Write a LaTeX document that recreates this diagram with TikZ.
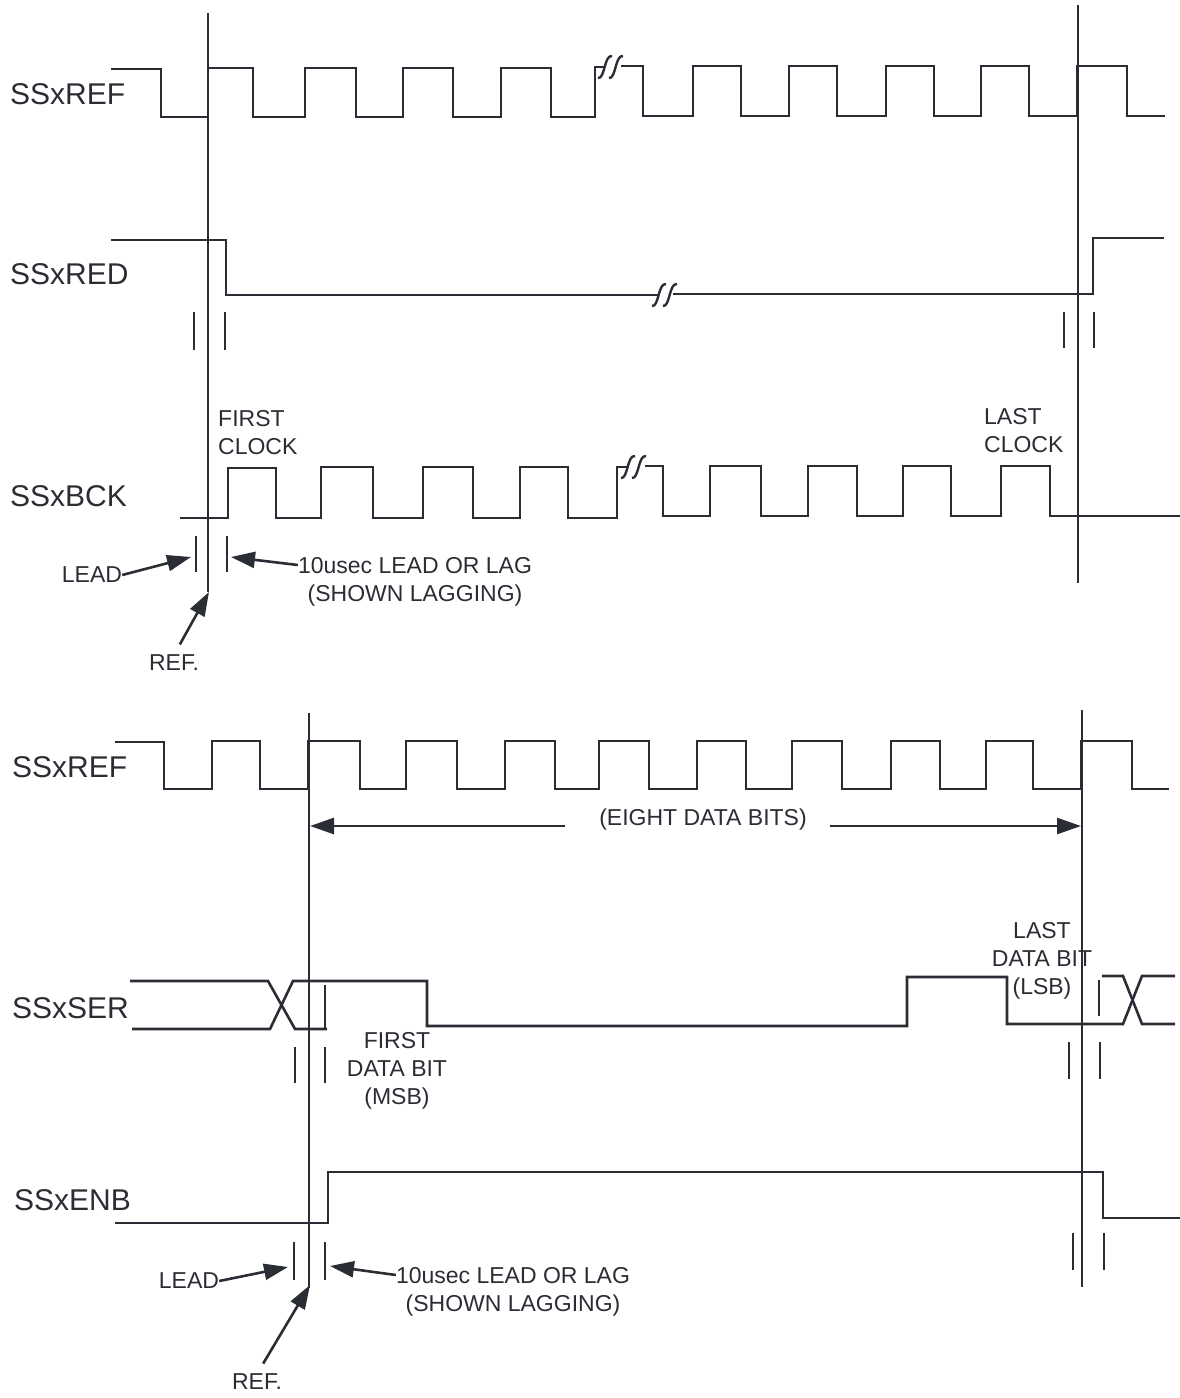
\documentclass[tikz,border=0pt]{standalone}
\usepackage{fontspec}
\setmainfont{Liberation Sans}
\usetikzlibrary{arrows.meta,calc,positioning}
\definecolor{ink}{RGB}{42,45,52}

\begin{document}
\begin{tikzpicture}[x=1pt,y=-1pt,>={Triangle[length=24pt,width=16pt]},
  wave/.style={ink, line width=2.6pt},
  refline/.style={ink, line width=1.8pt},
  tickmark/.style={ink, line width=2.6pt},
  gapmark/.style={ink, line width=2.4pt},
  sig/.style={font=\fontsize{30}{32}\selectfont, text=ink, anchor=west, inner sep=0pt},
  note/.style={font=\fontsize{23}{28}\selectfont, text=ink, inner sep=0pt, align=center},
  pointer/.style={ink, line width=2.6pt, ->}]

\useasboundingbox (0,0) rectangle (1180,1398);

% ---------------- upper diagram
\node[sig] (refA) at (10,94)  {SSxREF};
\node[sig] (red)  at (10,274) {SSxRED};
\node[sig] (bck)  at (10,496) {SSxBCK};

\draw[refline] (208,13) -- (208,592);
\draw[refline] (1078,5) -- (1078,583);

\draw[wave] (111,69) -- (161,69) -- (161,117)
  \foreach \r/\f in {208/253,305/356,403/453,501/551} { -- (\r,117) -- (\r,68) -- (\f,68) -- (\f,117) }
  -- (595,117) -- (595,67) -- (605,67);
\draw[wave] (621,66) -- (643,66) -- (643,116)
  \foreach \r/\f in {693/741,789/837,886/934,981/1029,1077/1127} { -- (\r,116) -- (\r,66) -- (\f,66) -- (\f,116) }
  -- (1165,116);
\draw[gapmark] (598,78) .. controls (605,79) and (604,55) .. (612,56);
\draw[gapmark] (609,78) .. controls (616,79) and (615,55) .. (623,56);

\draw[wave] (111,240) -- (226,240) -- (226,295) -- (659,295);
\draw[wave] (673,294) -- (1093,294) -- (1093,238) -- (1164,238);
\draw[gapmark] (652,306) .. controls (659,307) and (658,283) .. (666,284);
\draw[gapmark] (663,306) .. controls (670,307) and (669,283) .. (677,284);

\draw[tickmark] (194,312) -- (194,350);
\draw[tickmark] (225,312) -- (225,350);
\draw[tickmark] (1064,312) -- (1064,348);
\draw[tickmark] (1094,312) -- (1094,348);

\draw[wave] (180,518) -- (228,518) -- (228,468) -- (276,468) -- (276,518)
  \foreach \r/\f in {321/373,423/473,520/568} { -- (\r,518) -- (\r,467) -- (\f,467) -- (\f,518) }
  -- (617,518) -- (617,467) -- (628,467);
\draw[wave] (645,466) -- (663,466) -- (663,516)
  \foreach \r/\f in {710/761,808/857,903/951,1001/1050} { -- (\r,516) -- (\r,466) -- (\f,466) -- (\f,516) }
  -- (1180,516);
\draw[gapmark] (621,478) .. controls (628,479) and (627,455) .. (635,456);
\draw[gapmark] (632,478) .. controls (639,479) and (638,455) .. (646,456);

\node[note, align=left, anchor=west] (firstclk) at (218,433) {FIRST\\CLOCK};
\node[note, align=left, anchor=west] (lastclk) at (984,431) {LAST\\CLOCK};

\draw[tickmark] (196,536) -- (196,572);
\draw[tickmark] (227,536) -- (227,572);
\coordinate (leadA) at (191,557);
\coordinate (lagA) at (231,557);
\coordinate (refptA) at (209,592);

\node[note] (leadtxtA) at (92,575) {LEAD};
\node[note, anchor=north] (lagtxtA) at (415,557) {10usec LEAD OR LAG\\(SHOWN LAGGING)};
\node[note] (reftxtA) at (174,663) {REF.};

\draw[pointer] (leadtxtA.east) -- (leadA);
\draw[pointer] ([yshift=-8pt]lagtxtA.north west) -- (lagA);
\draw[pointer, shorten <=12pt] (reftxtA.north) -- (refptA);

% ---------------- lower diagram
\node[sig] (refB) at (12,767)  {SSxREF};
\node[sig] (ser)  at (12,1008) {SSxSER};
\node[sig] (enb)  at (14,1200) {SSxENB};

\draw[refline] (309,713) -- (309,1288);
\draw[refline] (1082,710) -- (1082,1287);

\draw[wave] (115,742) -- (164,742) -- (164,789)
  \foreach \r/\f in {212/260,308/360,406/457,505/555,599/649,697/746,792/842,891/940,986/1033,1081/1132} { -- (\r,789) -- (\r,741) -- (\f,741) -- (\f,789) }
  -- (1169,789);

\node[note] (bits) at (703,820) {(EIGHT DATA BITS)};
\coordinate (bitsL) at (310,826);
\coordinate (bitsR) at (1081,826);
\draw[pointer] ([xshift=-34pt,yshift=-6pt]bits.west) -- (bitsL);
\draw[pointer] ([xshift=23pt,yshift=-6pt]bits.east) -- (bitsR);

\draw[wave] (130,981) -- (268,981) -- (295,1029) -- (327,1029);
\draw[wave] (132,1029) -- (270,1029) -- (293,981) -- (427,981) -- (427,1026)
  -- (907,1026) -- (907,977) -- (1007,977) -- (1007,1024) -- (1123,1024) -- (1142,976) -- (1175,976);
\draw[wave] (1102,976) -- (1123,976) -- (1142,1024) -- (1175,1024);
\draw[tickmark] (325,985) -- (325,1028);
\draw[tickmark] (1099,980) -- (1099,1016);

\draw[tickmark] (295,1047) -- (295,1083);
\draw[tickmark] (325,1047) -- (325,1083);
\draw[tickmark] (1069,1042) -- (1069,1079);
\draw[tickmark] (1100,1042) -- (1100,1079);

\node[note] (firstbit) at (397,1071) {FIRST\\DATA BIT\\(MSB)};
\node[note] (lastbit) at (1042,961) {LAST\\DATA BIT\\(LSB)};

\draw[wave] (115,1223) -- (328,1223) -- (328,1172) -- (1103,1172) -- (1103,1218) -- (1180,1218);

\draw[tickmark] (294,1242) -- (294,1280);
\draw[tickmark] (325,1242) -- (325,1280);
\draw[tickmark] (1073,1233) -- (1073,1270);
\draw[tickmark] (1104,1233) -- (1104,1270);
\coordinate (leadB) at (288,1267);
\coordinate (lagB) at (330,1266);
\coordinate (refptB) at (310,1285);

\node[note] (leadtxtB) at (189,1281) {LEAD};
\node[note, anchor=north] (lagtxtB) at (513,1267) {10usec LEAD OR LAG\\(SHOWN LAGGING)};
\node[note] (reftxtB) at (257,1382) {REF.};

\draw[pointer] (leadtxtB.east) -- (leadB);
\draw[pointer] ([yshift=-8pt]lagtxtB.north west) -- (lagB);
\draw[pointer, shorten <=12pt] (reftxtB.north) -- (refptB);

\end{tikzpicture}
\end{document}
